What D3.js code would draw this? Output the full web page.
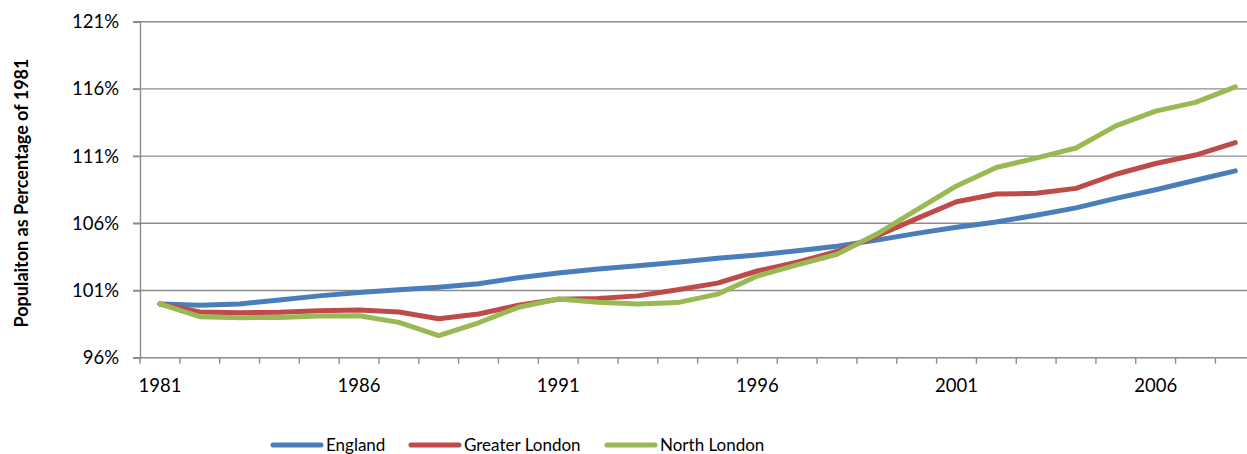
<!DOCTYPE html>
<html>
<head>
<meta charset="utf-8">
<script src="https://cdn.jsdelivr.net/npm/d3@7"></script>
<style>
  body { margin: 0; background: #fff; }
  svg { display: block; font-family: Lato, "Open Sans", sans-serif; }
</style>
</head>
<body>
<div id="chart-area"></div>
<script>
// years on the category axis
const years = d3.range(1981, 2009);

// population as % of 1981
const england = [100, 99.9, 100.0, 100.3, 100.6, 100.85, 101.05, 101.25, 101.5, 101.95,
  102.3, 102.6, 102.85, 103.1, 103.4, 103.65, 103.95, 104.3, 104.75, 105.25,
  105.7, 106.1, 106.6, 107.15, 107.85, 108.5, 109.2, 109.9];
const greaterLondon = [100, 99.4, 99.35, 99.38, 99.5, 99.55, 99.4, 98.9, 99.25, 99.9,
  100.35, 100.4, 100.6, 101.05, 101.55, 102.45, 103.1, 103.9, 105.05, 106.35,
  107.6, 108.18, 108.23, 108.6, 109.65, 110.45, 111.08, 112.0];
const northLondon = [100, 99.05, 98.98, 99.0, 99.1, 99.12, 98.63, 97.65, 98.6, 99.75,
  100.37, 100.12, 100.0, 100.1, 100.73, 102.08, 102.9, 103.7, 105.2, 107.0,
  108.78, 110.15, 110.85, 111.6, 113.25, 114.35, 115.0, 116.15];

const yTicks = [96, 101, 106, 111, 116, 121];
const xLabelYears = [1981, 1986, 1991, 1996, 2001, 2006];

const series = [
  { name: "England", values: england, color: "#4a7ebb" },
  { name: "Greater London", values: greaterLondon, color: "#be4b48" },
  { name: "North London", values: northLondon, color: "#98b954" }
];

const width = 1247, height = 454;
const plotLeft = 140, plotTop = 21.7, plotBottom = 357.7;

const svg = d3.select("#chart-area")
  .append("svg")
  .attr("width", width)
  .attr("height", height);

const x = d3.scaleBand()
  .domain(years)
  .range([plotLeft, plotLeft + 28 * 39.83])
  .padding(0);

const y = d3.scaleLinear()
  .domain([96, 121])
  .range([plotBottom, plotTop]);

// gridlines
svg.append("g")
  .selectAll("line")
  .data(yTicks)
  .enter()
  .append("line")
  .attr("x1", plotLeft - 7)
  .attr("x2", width)
  .attr("y1", d => y(d))
  .attr("y2", d => y(d))
  .attr("stroke", "#8c8c8c")
  .attr("stroke-width", 1.4);

// y axis
const yAxis = svg.append("g")
  .attr("transform", `translate(${plotLeft},0)`)
  .call(d3.axisLeft(y).tickValues(yTicks).tickSize(7).tickPadding(14).tickFormat(d => d + "%"));
yAxis.select(".domain").attr("stroke", "#8c8c8c").attr("stroke-width", 1.4);
yAxis.selectAll(".tick line").attr("stroke", "#8c8c8c").attr("stroke-width", 1.4);
yAxis.selectAll("text").attr("font-size", 18.5).attr("fill", "#000")
  .style("font-family", "Lato, 'Open Sans', sans-serif");

// x axis: tick marks on category boundaries
svg.append("g")
  .selectAll("line")
  .data(years.concat([2009]))
  .enter()
  .append("line")
  .attr("x1", d => d === 2009 ? x(2008) + x.bandwidth() : x(d))
  .attr("x2", d => d === 2009 ? x(2008) + x.bandwidth() : x(d))
  .attr("y1", plotBottom)
  .attr("y2", plotBottom + 6)
  .attr("stroke", "#8c8c8c")
  .attr("stroke-width", 1.4);

svg.append("g")
  .selectAll("text")
  .data(xLabelYears)
  .enter()
  .append("text")
  .attr("x", d => x(d) + x.bandwidth() / 2)
  .attr("y", 392)
  .attr("text-anchor", "middle")
  .attr("font-size", 18.5)
  .text(d => d);

// y axis title
svg.append("text")
  .attr("transform", "translate(28,193) rotate(-90)")
  .attr("text-anchor", "middle")
  .attr("font-size", 18)
  .attr("font-weight", "bold")
  .text("Populaiton as Percentage of 1981");

// lines
const line = d3.line()
  .x((d, i) => x(years[i]) + x.bandwidth() / 2)
  .y(d => y(d));

svg.append("g")
  .selectAll("path")
  .data(series)
  .enter()
  .append("path")
  .attr("d", d => line(d.values))
  .attr("fill", "none")
  .attr("stroke", d => d.color)
  .attr("stroke-width", 5)
  .attr("stroke-linejoin", "round")
  .attr("stroke-linecap", "round");

// legend
const legendX = [273, 411, 607];
const legend = svg.append("g")
  .selectAll("g")
  .data(series)
  .enter()
  .append("g")
  .attr("transform", (d, i) => `translate(${legendX[i]},445)`);

legend.append("line")
  .attr("x1", 0)
  .attr("x2", 48)
  .attr("stroke", d => d.color)
  .attr("stroke-width", 5)
  .attr("stroke-linecap", "round");

legend.append("text")
  .attr("x", 53)
  .attr("y", 6)
  .attr("font-size", 17)
  .text(d => d.name);
</script>
</body>
</html>
